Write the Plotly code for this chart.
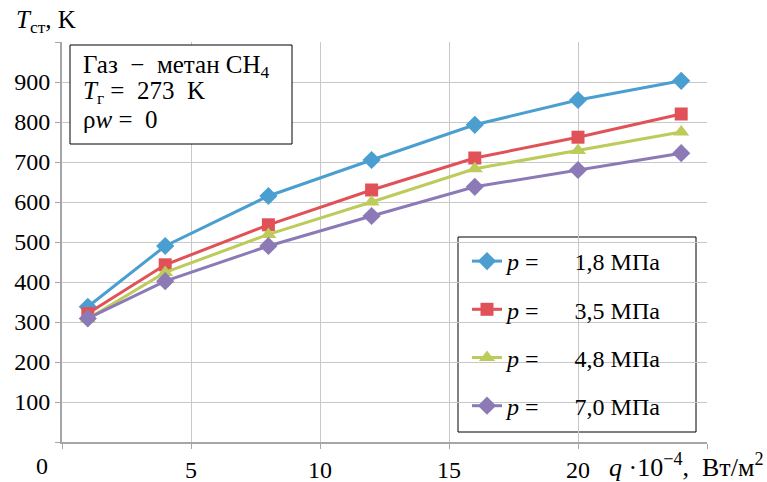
import plotly.graph_objects as go

q = [1, 4, 8, 12, 16, 20, 24]
t_18 = [338, 490, 615, 705, 793, 855, 903]
t_35 = [321, 443, 543, 630, 710, 762, 820]
t_48 = [308, 424, 519, 600, 683, 729, 775]
t_70 = [309, 402, 490, 565, 638, 680, 722]

NB = "\u00a0"
names = [f"<i>p</i> ={NB*6}1,8 MПа", f"<i>p</i> ={NB*6}3,5 MПа",
         f"<i>p</i> ={NB*6}4,8 MПа", f"<i>p</i> ={NB*6}7,0 MПа"]
colors = ["#4A9FD0", "#E05257", "#BDCB5A", "#8C7AB6"]
symbols = ["diamond", "square", "triangle-up", "diamond"]
sizes = [14, 13, 14, 14]
series = [t_18, t_35, t_48, t_70]

x_ticks = [0, 5, 10, 15, 20, 25]
x_text = ["", "5", "10", "15", "20", ""]
y_ticks = [0, 100, 200, 300, 400, 500, 600, 700, 800, 900, 1000]
y_text = ["", "100", "200", "300", "400", "500", "600", "700", "800", "900", ""]

FONT = "Liberation Serif, Times New Roman, serif"
fig = go.Figure()
for i, (ys, nm, c, s, sz) in enumerate(zip(series, names, colors, symbols, sizes)):
    fig.add_trace(go.Scatter(x=q, y=ys, name=nm, mode="lines+markers",
                             legendgroup=str(i),
                             line=dict(color=c, width=3),
                             marker=dict(symbol=s, size=sz, color=c)))

PX0, PX1, PY0, PY1 = 62, 707, 42, 442
W, H = 767, 482

def px(x):
    return (x - PX0) / (PX1 - PX0)

def py(y):
    return (PY1 - y) / (PY1 - PY0)

fig.update_layout(
    width=W, height=H,
    margin=dict(l=PX0, r=W - PX1, t=PY0, b=H - PY1, pad=0),
    paper_bgcolor="white", plot_bgcolor="white",
    font=dict(family=FONT, size=24, color="black"),
    showlegend=True,
    legend=dict(x=px(467), y=py(239), xanchor="left", yanchor="top",
                bgcolor="rgba(0,0,0,0)", borderwidth=0,
                font=dict(family=FONT, size=24), tracegroupgap=14,
                traceorder="grouped"),
    xaxis=dict(range=[0, 25], tickvals=x_ticks, ticktext=x_text, automargin=False,
               showgrid=True, gridcolor="#C8C8C8", gridwidth=1,
               showline=True, linecolor="#A6A6A6", linewidth=2,
               ticks="outside", ticklen=5, tickcolor="#A6A6A6",
               zeroline=False, tickfont=dict(family=FONT, size=24)),
    yaxis=dict(range=[0, 1000], tickvals=y_ticks, ticktext=y_text, automargin=False,
               showgrid=True, gridcolor="#C8C8C8", gridwidth=1,
               showline=True, linecolor="#A6A6A6", linewidth=2,
               ticks="outside", ticklen=5, tickcolor="#A6A6A6",
               zeroline=False, tickfont=dict(family=FONT, size=24)),
)

# legend frame
fig.add_shape(type="rect", xref="paper", yref="paper",
              x0=px(458), x1=px(696), y0=py(432), y1=py(237),
              line=dict(color="black", width=1), fillcolor="white", layer="below")
# annotation box
fig.add_shape(type="rect", xref="paper", yref="paper",
              x0=px(70), x1=px(292), y0=py(144), y1=py(45),
              line=dict(color="black", width=1), fillcolor="white", layer="above")
box_lines = [
    (f"Газ{NB*2}−{NB*2}метан{NB}CH<sub>4</sub>", 66),
    (f"<i>T</i><sub>г</sub>{NB}={NB*2}273{NB*2}K", 92),
    (f"ρ<i>w</i>{NB}={NB*2}0", 119),
]
for txt, yy in box_lines:
    fig.add_annotation(xref="paper", yref="paper", x=px(81), y=py(yy),
                       xanchor="left", yanchor="middle", align="left", showarrow=False,
                       text=txt, font=dict(family=FONT, size=25))
# axis titles
fig.add_annotation(xref="paper", yref="paper", x=px(14), y=py(21),
                   xanchor="left", yanchor="middle", showarrow=False,
                   text=f"<i>T</i><sub>ст</sub>,{NB}K", font=dict(family=FONT, size=25))
fig.add_annotation(xref="paper", yref="paper", x=px(766), y=py(465),
                   xanchor="right", yanchor="middle", showarrow=False,
                   text=f"<i>q</i>{NB}·10<sup>−4</sup>,{NB*2}Вт/м<sup>2</sup>",
                   font=dict(family=FONT, size=26))
fig.add_annotation(xref="paper", yref="paper", x=px(42), y=py(466),
                   xanchor="center", yanchor="middle", showarrow=False,
                   text="0", font=dict(family=FONT, size=24))

fig.write_html("out.html", config={"displayModeBar": False},
               post_script="document.body.style.margin='0';document.body.style.overflow='hidden';")
